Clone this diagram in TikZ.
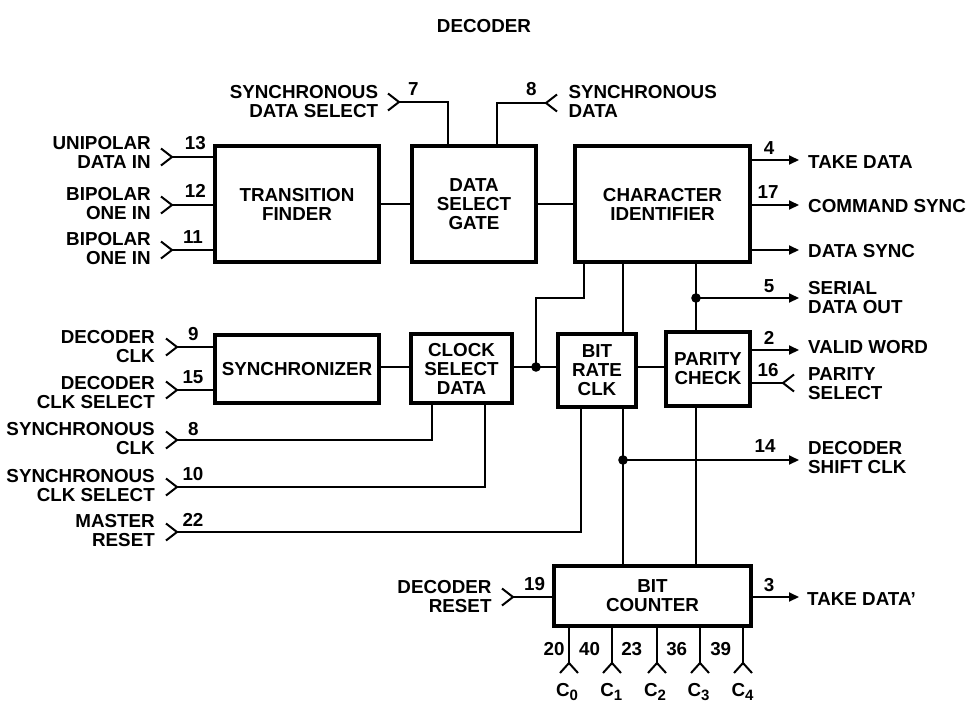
\documentclass[tikz,border=0pt]{standalone}
\usepackage{fontspec}
\setmainfont{Liberation Sans}
\usetikzlibrary{arrows.meta}
\newcommand\dgfont{\fontsize{18.8}{19}\selectfont\bfseries}
\newcommand\csub[1]{C\raisebox{-4pt}{\fontsize{15}{15}\selectfont\bfseries #1}}
\begin{document}
\begin{tikzpicture}[x=1pt,y=-1pt,
  blk/.style={draw, line width=4pt, inner sep=0pt, align=center, font=\dgfont},
  wire/.style={line width=2pt},
  outarrow/.style={wire, -{Triangle[length=10pt,width=9pt]}},
  lbl/.style={inner sep=0pt, font=\dgfont},
  lblL/.style={lbl, anchor=east, align=right},
  lblR/.style={lbl, anchor=west, align=left},
  pinlbl/.style={lbl},
  jdot/.style={circle, fill, inner sep=0pt, minimum size=9.6pt},
  pics/chin/.style={code={\draw[wire] (-11,-8.5) -- (0,0) -- (-11,8.5);}},
  pics/chout/.style={code={\draw[wire] (11,-8.5) -- (0,0) -- (11,8.5);}},
  pics/chup/.style={code={\draw[wire] (-9,10) -- (0,0) -- (9,10);}}
]
\useasboundingbox (0,0) rectangle (967,702);
\node[lbl] (title) at (484,26) {DECODER};

% blocks
\node[blk, minimum width=164pt, minimum height=116pt] (tf) at (297,204) {TRANSITION\\FINDER};
\node[blk, minimum width=124pt, minimum height=116pt] (dsg) at (474,204) {DATA\\SELECT\\GATE};
\node[blk, minimum width=175pt, minimum height=116pt] (ci) at (662.5,204) {CHARACTER\\IDENTIFIER};
\node[blk, minimum width=164pt, minimum height=68pt] (sync) at (297,369) {SYNCHRONIZER};
\node[blk, minimum width=101pt, minimum height=69pt] (csd) at (461.5,368.5) {CLOCK\\SELECT\\DATA};
\node[blk, minimum width=78pt, minimum height=73pt] (brc) at (597,370.5) {BIT\\RATE\\CLK};
\node[blk, minimum width=84pt, minimum height=74pt] (pc) at (708,369) {PARITY\\CHECK};
\node[blk, minimum width=197pt, minimum height=60pt] (bc) at (652.5,596) {BIT\\COUNTER};

% coordinates
\coordinate (ti1) at (172,157);
\coordinate (ti2) at (172,205);
\coordinate (ti3) at (172,250);
\coordinate (si1) at (177,347);
\coordinate (si2) at (177,390);
\coordinate (sc1) at (177,440);
\coordinate (sc2) at (177,487);
\coordinate (mr) at (177,532);
\coordinate (sds) at (399,102);
\coordinate (sd) at (546,103);
\coordinate (o1) at (799,160);
\coordinate (o2) at (799,205);
\coordinate (o3) at (799,250);
\coordinate (o4) at (799,298);
\coordinate (o5) at (799,350);
\coordinate (ps) at (783,383);
\coordinate (o6) at (799,460);
\coordinate (o7) at (799,597);
\coordinate (dr) at (513,597);
\coordinate (j1) at (536,367);
\coordinate (d1) at (696,298);
\coordinate (d2) at (623,460);
\coordinate (c0) at (569,663);
\coordinate (c1) at (612,663);
\coordinate (c2) at (657,663);
\coordinate (c3) at (700,663);
\coordinate (c4) at (743,663);

% inputs to transition finder
\foreach \p in {ti1,ti2,ti3} {
  \draw[wire] (\p) -- (\p -| tf.west);
  \pic at (\p) {chin};
}
% inputs to synchronizer
\foreach \p in {si1,si2} {
  \draw[wire] (\p) -- (\p -| sync.west);
  \pic at (\p) {chin};
}
\pic at (sc1) {chin};
\pic at (sc2) {chin};
\pic at (mr) {chin};
\draw[wire] (csd.south -| 432,0) |- (sc1);
\draw[wire] (csd.south -| 485,0) |- (sc2);
\draw[wire] (brc.south -| 581,0) |- (mr);

% data select gate inputs
\draw[wire] (sds) -| (dsg.north -| 448,0);
\pic at (sds) {chin};
\draw[wire] (dsg.north -| 497,0) |- (sd);
\pic at (sd) {chout};

% chain
\draw[wire] (tf.east) -- (dsg.west);
\draw[wire] (dsg.east) -- (ci.west);
\draw[wire] (sync.east |- j1) -- (csd.west |- j1);
\draw[wire] (csd.east |- j1) -- (brc.west |- j1);
\draw[wire] (brc.east |- j1) -- (pc.west |- j1);
\draw[wire] (ci.south -| 584,0) -- (584,298) -| (j1);
\node[jdot] (dj1) at (j1) {};

% character identifier outputs
\draw[outarrow] (ci.east |- o1) -- (o1);
\draw[outarrow] (ci.east |- o2) -- (o2);
\draw[outarrow] (ci.east |- o3) -- (o3);
\draw[wire] (ci.south -| 623,0) -- (brc.north -| 623,0);
\draw[wire] (ci.south -| d1) -- (pc.north -| d1);
\node[jdot] (dd1) at (d1) {};
\draw[outarrow] (dd1.center) -- (o4);

% parity check
\draw[outarrow] (pc.east |- o5) -- (o5);
\draw[wire] (pc.east |- ps) -- (ps);
\pic at (ps) {chout};
\draw[wire] (pc.south -| d1) -- (bc.north -| d1);

% bit rate clk to counter
\draw[wire] (brc.south -| d2) -- (bc.north -| d2);
\node[jdot] (dd2) at (d2) {};
\draw[outarrow] (dd2.center) -- (o6);

% bit counter
\draw[wire] (dr) -- (bc.west |- dr);
\pic at (dr) {chin};
\draw[outarrow] (bc.east |- o7) -- (o7);
\foreach \p in {c0,c1,c2,c3,c4} {
  \draw[wire] (bc.south -| \p) -- (\p);
  \pic at (\p) {chup};
}

% labels left
\node[lblL] (lu) at (151,152.5) {UNIPOLAR\\DATA IN};
\node[lblL] (lb1) at (151,203.7) {BIPOLAR\\ONE IN};
\node[lblL] (lb2) at (151,249) {BIPOLAR\\ONE IN};
\node[lblL] (lsds) at (378.3,101.7) {SYNCHRONOUS\\DATA SELECT};
\node[lblR] (lsd) at (568.3,101.7) {SYNCHRONOUS\\DATA};
\node[lblL] (ldc) at (155,346.2) {DECODER\\CLK};
\node[lblL] (ldcs) at (155,392.2) {DECODER\\CLK SELECT};
\node[lblL] (lsc) at (155,438.8) {SYNCHRONOUS\\CLK};
\node[lblL] (lscs) at (155,485.5) {SYNCHRONOUS\\CLK SELECT};
\node[lblL] (lmr) at (155,530.8) {MASTER\\RESET};
\node[lblL] (ldr) at (491.7,597) {DECODER\\RESET};
% labels right
\node[lblR] (ltd) at (808,161.7) {TAKE DATA};
\node[lblR] (lcs) at (808,206) {COMMAND SYNC};
\node[lblR] (lds) at (808,251) {DATA SYNC};
\node[lblR] (lsdo) at (808,297.5) {SERIAL\\DATA OUT};
\node[lblR] (lvw) at (808,347.2) {VALID WORD};
\node[lblR] (lps) at (808,383.7) {PARITY\\SELECT};
\node[lblR] (ldsc) at (808,457.5) {DECODER\\SHIFT CLK};
\node[lblR] (ltd2) at (807,598.8) {TAKE DATA’};

% pin numbers
\node[pinlbl] (p13) at (195.3,143.5) {13};
\node[pinlbl] (p12) at (195.3,191.3) {12};
\node[pinlbl] (p11) at (193,237.5) {11};
\node[pinlbl] (p7) at (413.3,89.2) {7};
\node[pinlbl] (p8a) at (531.3,89.2) {8};
\node[pinlbl] (p4) at (769,148.3) {4};
\node[pinlbl] (p17) at (768,192.5) {17};
\node[pinlbl] (p5) at (769,285.8) {5};
\node[pinlbl] (p2) at (769,337.5) {2};
\node[pinlbl] (p16) at (768,370.2) {16};
\node[pinlbl] (p14) at (765,445.8) {14};
\node[pinlbl] (p9) at (193.3,334.2) {9};
\node[pinlbl] (p15) at (193,377.2) {15};
\node[pinlbl] (p8b) at (193.3,429.2) {8};
\node[pinlbl] (p10) at (193,474.5) {10};
\node[pinlbl] (p22) at (193,519.8) {22};
\node[pinlbl] (p19) at (534.5,583.8) {19};
\node[pinlbl] (p3) at (769.2,585) {3};
\node[pinlbl] (p20) at (554.2,649.5) {20};
\node[pinlbl] (p40) at (589.5,649.5) {40};
\node[pinlbl] (p23) at (631.7,649.5) {23};
\node[pinlbl] (p36) at (676.7,649.5) {36};
\node[pinlbl] (p39) at (720.7,649.5) {39};

% counter outputs
\node[lbl, anchor=north] (lc0) at (567,683) {\csub{0}};
\node[lbl, anchor=north] (lc1) at (611.3,683) {\csub{1}};
\node[lbl, anchor=north] (lc2) at (655,683) {\csub{2}};
\node[lbl, anchor=north] (lc3) at (698.5,683) {\csub{3}};
\node[lbl, anchor=north] (lc4) at (742.5,683) {\csub{4}};
\end{tikzpicture}
\end{document}
